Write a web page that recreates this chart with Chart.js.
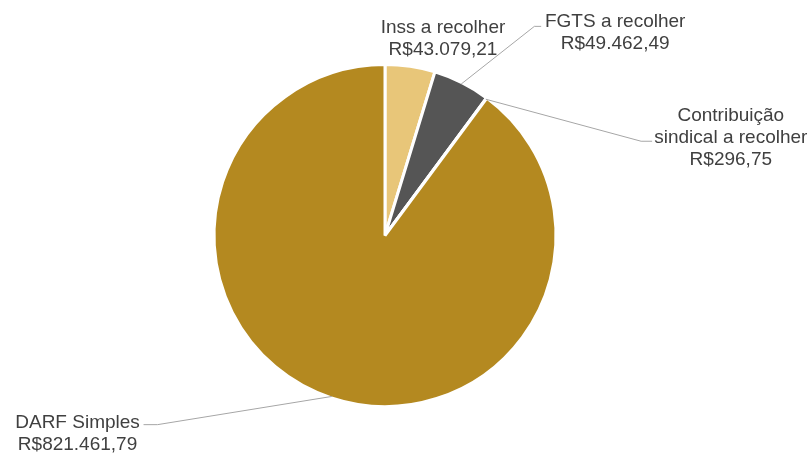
<!DOCTYPE html>
<html>
<head>
<meta charset="utf-8">
<script src="https://cdn.jsdelivr.net/npm/chart.js@4/dist/chart.umd.min.js"></script>
<style>
html,body{margin:0;padding:0;background:#fff;}
#wrap{width:812px;height:454px;}
</style>
</head>
<body>
<div id="wrap"><canvas id="c" width="812" height="454"></canvas></div>
<script>
// ---- data ----
const categories = ['Inss a recolher', 'FGTS a recolher', 'Contribuição sindical a recolher', 'DARF Simples'];
const values = [43079.21, 49462.49, 296.75, 821461.79];
const colors = ['#E8C679', '#555555', '#A5A5A5', '#B48920'];

// label placement relative to each slice's outer mid-point (layout only)
const labelLayout = [
  { text: [33, -34.7], line: null },
  { text: [154, -57], line: [[73.2, -57.7], [80, -57.7]] },
  { text: [245, 22], line: [[155.3, 42], [166.3, 42]] },
  { text: [-254.3, 31.5], line: [[-174.3, 28.2], [-188.3, 28.2]] }
];

function fmtBRL(v) {
  const parts = v.toFixed(2).split('.');
  const intPart = parts[0].replace(/\B(?=(\d{3})+(?!\d))/g, '.');
  return 'R$' + intPart + ',' + parts[1];
}

function wrap(ctx, text, maxW) {
  const words = text.split(' ');
  const lines = [];
  let cur = '';
  for (const w of words) {
    const t = cur ? cur + ' ' + w : w;
    if (ctx.measureText(t).width > maxW && cur) { lines.push(cur); cur = w; }
    else cur = t;
  }
  if (cur) lines.push(cur);
  return lines;
}

const labelPlugin = {
  id: 'pieLabels',
  afterDatasetsDraw(chart) {
    const ctx = chart.ctx;
    const meta = chart.getDatasetMeta(0);
    ctx.save();
    ctx.font = '19px "Liberation Sans", Arial, sans-serif';
    ctx.fillStyle = '#404040';
    ctx.textAlign = 'center';
    ctx.textBaseline = 'alphabetic';
    meta.data.forEach((arc, i) => {
      const p = arc.getProps(['x', 'y', 'startAngle', 'endAngle', 'outerRadius'], true);
      const mid = (p.startAngle + p.endAngle) / 2;
      const r = p.outerRadius - 1.5;
      const ax = p.x + Math.cos(mid) * r;
      const ay = p.y + Math.sin(mid) * r;
      const lay = labelLayout[i];
      if (lay.line) {
        ctx.beginPath();
        ctx.strokeStyle = '#A6A6A6';
        ctx.lineWidth = 1;
        ctx.moveTo(ax, ay);
        lay.line.forEach(pt => ctx.lineTo(ax + pt[0], ay + pt[1]));
        ctx.stroke();
      }
      const lines = wrap(ctx, chart.data.labels[i], 166).concat([fmtBRL(chart.data.datasets[0].data[i])]);
      const tx = ax + lay.text[0];
      let ty = ay + lay.text[1];
      lines.forEach(l => { ctx.fillText(l, tx, ty); ty += 21.7; });
    });
    ctx.restore();
  }
};

new Chart(document.getElementById('c'), {
  type: 'pie',
  data: {
    labels: categories,
    datasets: [{
      data: values,
      backgroundColor: colors,
      borderColor: '#FFFFFF',
      borderWidth: 3
    }]
  },
  options: {
    responsive: false,
    animation: false,
    layout: { padding: { top: 62.5, bottom: 45.5, left: 212.5, right: 254.5 } },
    plugins: {
      legend: { display: false },
      tooltip: { enabled: false }
    }
  },
  plugins: [labelPlugin]
});
</script>
</body>
</html>
